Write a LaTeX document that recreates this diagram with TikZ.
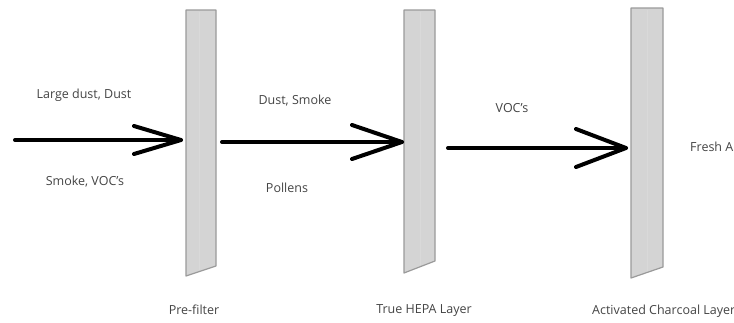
\documentclass[tikz,border=0pt]{standalone}
\usepackage{fontspec}
\setmainfont{Open Sans}
\definecolor{panelfill}{HTML}{D4D4D4}
\definecolor{paneledge}{HTML}{9A9A9A}
\definecolor{txt}{HTML}{444444}
\tikzset{
  panel/.style={fill=panelfill,draw=paneledge,line width=1.2pt,line join=round},
  seam/.style={draw=white!85!black,line width=0.6pt},
  flow/.style={draw=black,line width=4pt,line cap=round,line join=round},
  lbl/.style={font=\fontsize{12.5}{14}\selectfont,text=txt,inner sep=0pt}
}
\begin{document}
\begin{tikzpicture}[x=1pt,y=-1pt]
\useasboundingbox (0,0) rectangle (734,322);
\clip (0,0) rectangle (734,322);
% panels
\draw[panel] (186,10) -- (216,10) -- (216,266) -- (186,276) -- cycle;
\draw[seam] (199,12) -- (199,270);
\draw[panel] (404,10) -- (435,10) -- (435,261) -- (404,273) -- cycle;
\draw[seam] (420,12) -- (420,265);
\draw[panel] (631,8) -- (663,8) -- (663,267) -- (631,278) -- cycle;
\draw[seam] (647,10) -- (647,271);
% connector coordinates
\coordinate (s1) at (15,140);  \coordinate (t1) at (181,140);
\coordinate (s2) at (222,142); \coordinate (t2) at (402,142);
\coordinate (s3) at (448,148); \coordinate (t3) at (626,148);
\draw[flow] (s1) -- (t1);
\draw[flow] ([shift={(-47,-14)}]t1) -- (t1) -- ([shift={(-47,14)}]t1);
\draw[flow] (s2) -- (t2);
\draw[flow] ([shift={(-50,-17)}]t2) -- (t2) -- ([shift={(-50,17)}]t2);
\draw[flow] (s3) -- (t3);
\draw[flow] ([shift={(-50,-19)}]t3) -- (t3) -- ([shift={(-50,19)}]t3);
% labels
\node[lbl] (l1) at (84,95) {Large dust, Dust};
\node[lbl] (l2) at (85,182) {Smoke, VOC's};
\node[lbl] (l3) at (295,101) {Dust, Smoke};
\node[lbl] (l4) at (287,188) {Pollens};
\node[lbl] (l5) at (512,108) {VOC's};
\node[lbl,anchor=west] (l6) at (690,147) {Fresh Air};
\node[lbl] (b1) at (194,310) {Pre-filter};
\node[lbl] (b2) at (424,311) {True HEPA Layer};
\node[lbl,anchor=west] (b3) at (592,311) {Activated Charcoal Layer};
\end{tikzpicture}
\end{document}
